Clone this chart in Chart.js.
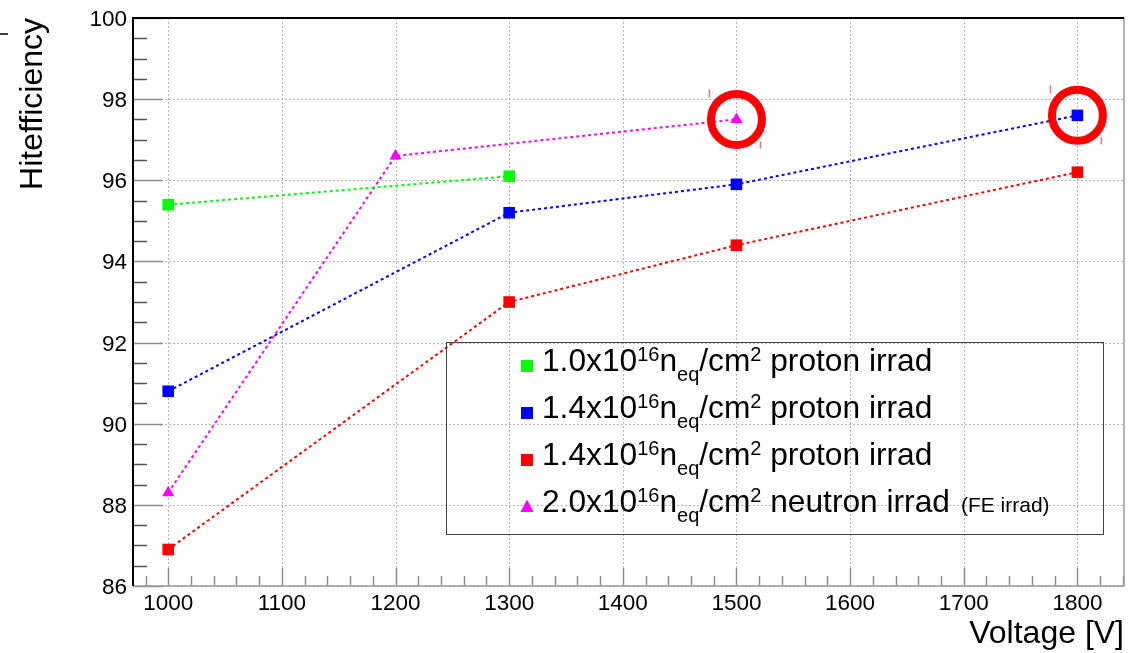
<!DOCTYPE html>
<html>
<head>
<meta charset="utf-8">
<script src="https://cdn.jsdelivr.net/npm/chart.js@4/dist/chart.umd.min.js"></script>
<style>
  html, body { margin: 0; padding: 0; background: #fff; }
  #wrap { width: 1138px; height: 653px; }
</style>
</head>
<body>
<div id="wrap"><canvas id="effChart" width="1138" height="653"></canvas></div>
<script>
// values
const greenV = [1000, 1300];
const greenEff = [95.4, 96.1];
const blueV = [1000, 1300, 1500, 1800];
const blueEff = [90.8, 95.2, 95.9, 97.6];
const redV = [1000, 1300, 1500, 1800];
const redEff = [86.9, 93.0, 94.4, 96.2];
const magentaV = [1000, 1200, 1500];
const magentaEff = [88.3, 96.6, 97.5];
// circled points
const circledV = [1500, 1800];
const circledEff = [97.5, 97.6];

const xTicks = [1000, 1100, 1200, 1300, 1400, 1500, 1600, 1700, 1800];
const yTicks = [86, 88, 90, 92, 94, 96, 98, 100];

const seriesLabels = [
  '1.0x10^{16}n_{eq}/cm^{2} proton irrad',
  '1.4x10^{16}n_{eq}/cm^{2} proton irrad',
  '1.4x10^{16}n_{eq}/cm^{2} proton irrad',
  '2.0x10^{16}n_{eq}/cm^{2} neutron irrad'
];
const seriesNotes = ['', '', '', '(FE irrad)'];
const seriesColors = ['#00ff00', '#0000ff', '#ff0000', '#ff00ff'];
const seriesMarkers = ['rect', 'rect', 'rect', 'triangle'];

const xTitle = 'Voltage [V]';
const yTitle = 'Hitefficiency';

const FONT = '"Liberation Sans", Arial, Helvetica, sans-serif';

function pts(xs, ys){ return xs.map((x,i)=>({x:x, y:ys[i]})); }

function seriesDataset(i, xs, ys){
  return {
    label: seriesLabels[i],
    data: pts(xs, ys),
    borderColor: seriesColors[i],
    backgroundColor: seriesColors[i],
    borderWidth: 2,
    borderDash: [3, 3],
    pointStyle: seriesMarkers[i],
    pointRadius: seriesMarkers[i] === 'rect' ? 8.2 : 7,
    pointBorderWidth: 0,
    pointBackgroundColor: seriesColors[i],
    tension: 0,
    order: 1
  };
}

function drawRich(ctx, str, x, y, size){
  const parts = str.split(/(\^\{[^}]*\}|_\{[^}]*\})/).filter(s=>s.length);
  const small = Math.round(size * 0.62);
  parts.forEach(p=>{
    let txt = p, fs = size, dy = 0;
    if(p[0] === '^'){ txt = p.slice(2, -1); fs = small; dy = -size * 0.33; }
    else if(p[0] === '_'){ txt = p.slice(2, -1); fs = small; dy = size * 0.3; }
    ctx.font = fs + 'px ' + FONT;
    ctx.fillText(txt, x, y + dy);
    x += ctx.measureText(txt).width;
  });
  return x;
}

function drawMarker(ctx, style, x, y, color){
  ctx.fillStyle = color;
  ctx.beginPath();
  if(style === 'triangle'){
    ctx.moveTo(x, y - 7.5);
    ctx.lineTo(x + 6.5, y + 5);
    ctx.lineTo(x - 6.5, y + 5);
    ctx.closePath();
  } else {
    ctx.rect(x - 6, y - 6, 12, 12);
  }
  ctx.fill();
}

const rootStyle = {
  id: 'rootStyle',
  beforeDatasetsDraw(chart){
    const ctx = chart.ctx;
    const a = chart.chartArea;
    const xs = chart.scales.x, ys = chart.scales.y;
    ctx.save();
    // dotted grid
    ctx.strokeStyle = '#b4b4b4';
    ctx.lineWidth = 1;
    ctx.setLineDash([2, 2]);
    xTicks.forEach(v=>{
      const px = Math.round(xs.getPixelForValue(v)) + 0.5;
      ctx.beginPath(); ctx.moveTo(px, a.top); ctx.lineTo(px, a.bottom); ctx.stroke();
    });
    yTicks.forEach(v=>{
      const py = Math.round(ys.getPixelForValue(v)) + 0.5;
      ctx.beginPath(); ctx.moveTo(a.left, py); ctx.lineTo(a.right, py); ctx.stroke();
    });
    ctx.setLineDash([]);

    // y ticks (inward from left axis)
    for(let v = 86; v <= 100.001; v += 0.5){
      const py = Math.round(ys.getPixelForValue(v)) + 0.5;
      const major = Math.abs(v % 2) < 0.001;
      ctx.strokeStyle = major ? '#8c8c8c' : '#555';
      ctx.lineWidth = 1.5;
      ctx.beginPath(); ctx.moveTo(a.left, py); ctx.lineTo(a.left + (major ? 30 : 14), py); ctx.stroke();
    }
    // x ticks (upward from bottom axis)
    for(let v = 980; v <= 1840; v += 20){
      const px = Math.round(xs.getPixelForValue(v)) + 0.5;
      const major = v % 100 === 0;
      ctx.strokeStyle = '#8c8c8c';
      ctx.lineWidth = 1.5;
      ctx.beginPath(); ctx.moveTo(px, a.bottom); ctx.lineTo(px, a.bottom - (major ? 18 : 10)); ctx.stroke();
    }

    // frame
    ctx.lineWidth = 1.5;
    ctx.strokeStyle = '#9a9a9a';
    ctx.beginPath(); ctx.moveTo(a.left, a.bottom); ctx.lineTo(a.right, a.bottom); ctx.lineTo(a.right, a.top); ctx.stroke();
    ctx.strokeStyle = '#000';
    ctx.lineWidth = 2;
    ctx.beginPath(); ctx.moveTo(a.left, a.bottom); ctx.lineTo(a.left, a.top); ctx.lineTo(a.right, a.top); ctx.stroke();

    // tick labels
    ctx.fillStyle = '#000';
    ctx.font = '22.5px ' + FONT;
    ctx.textAlign = 'right';
    ctx.textBaseline = 'alphabetic';
    yTicks.forEach(v=>{
      ctx.fillText(String(v), a.left - 6, ys.getPixelForValue(v) + 8);
    });
    ctx.textAlign = 'center';
    xTicks.forEach(v=>{
      ctx.fillText(String(v), xs.getPixelForValue(v), a.bottom + 24);
    });

    // axis titles
    ctx.font = '32px ' + FONT;
    ctx.textAlign = 'right';
    ctx.fillText(xTitle, a.right, 643);
    ctx.save();
    ctx.translate(42, a.top);
    ctx.rotate(-Math.PI / 2);
    ctx.textAlign = 'right';
    ctx.fillText(yTitle, 0, 0);
    ctx.restore();
    // small stray dash at top-left
    ctx.strokeStyle = '#000';
    ctx.lineWidth = 1.5;
    ctx.beginPath(); ctx.moveTo(0, 34); ctx.lineTo(8, 34); ctx.stroke();
    ctx.restore();
  },
  afterDatasetsDraw(chart){
    const ctx = chart.ctx;
    const xs = chart.scales.x, ys = chart.scales.y;
    ctx.save();
    // faint tick marks beside each circle
    ctx.strokeStyle = '#ff6a6a';
    ctx.lineWidth = 1.5;
    circledV.forEach((v,i)=>{
      const px = xs.getPixelForValue(v), py = ys.getPixelForValue(circledEff[i]);
      ctx.beginPath(); ctx.moveTo(px - 27, py - 30); ctx.lineTo(px - 27, py - 22); ctx.stroke();
      ctx.beginPath(); ctx.moveTo(px + 24, py + 22); ctx.lineTo(px + 24, py + 29); ctx.stroke();
    });

    // legend box
    const lx = 446, ly = 342, lw = 657, lh = 192;
    ctx.strokeStyle = '#444';
    ctx.lineWidth = 1;
    ctx.strokeRect(lx + 0.5, ly + 0.5, lw, lh);
    ctx.textAlign = 'left';
    ctx.textBaseline = 'alphabetic';
    seriesLabels.forEach((lab,i)=>{
      const base = 371 + i * 47;
      drawMarker(ctx, seriesMarkers[i], 527, base - 5, seriesColors[i]);
      ctx.fillStyle = '#000';
      const end = drawRich(ctx, lab, 542, base, 31.7);
      if(seriesNotes[i]){
        ctx.font = '21px ' + FONT;
        ctx.fillText(seriesNotes[i], end + 11, base);
      }
    });
    ctx.restore();
  }
};

new Chart(document.getElementById('effChart').getContext('2d'), {
  type: 'line',
  data: {
    datasets: [
      {
        label: 'circled',
        data: pts(circledV, circledEff),
        showLine: false,
        pointStyle: 'circle',
        pointRadius: 25.5,
        pointBorderWidth: 8,
        pointBorderColor: '#ff0000',
        pointBackgroundColor: 'rgba(0,0,0,0)',
        order: 0
      },
      seriesDataset(0, greenV, greenEff),
      seriesDataset(1, blueV, blueEff),
      seriesDataset(2, redV, redEff),
      seriesDataset(3, magentaV, magentaEff)
    ]
  },
  options: {
    responsive: false,
    animation: false,
    layout: { autoPadding: false, padding: { left: 133, top: 18, right: 14, bottom: 67 } },
    plugins: { legend: { display: false }, tooltip: { enabled: false } },
    scales: {
      x: { type: 'linear', min: 969, max: 1841, display: false },
      y: { type: 'linear', min: 86, max: 100, display: false }
    }
  },
  plugins: [rootStyle]
});
</script>
</body>
</html>
